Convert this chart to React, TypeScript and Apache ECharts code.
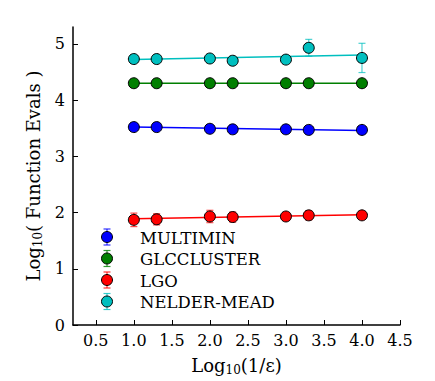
import React, { useEffect, useRef } from "react";
import * as echarts from "echarts";

const xValues = [1.0, 1.3, 2.0, 2.3, 3.0, 3.3, 4.0];
const seriesNames = ["MULTIMIN", "GLCCLUSTER", "LGO", "NELDER-MEAD"];
const seriesColors = ["#0000ff", "#007f00", "#ff0000", "#00bfbf"];

const multiminY = [3.52, 3.52, 3.49, 3.48, 3.48, 3.47, 3.47];
const multiminErr = [0.02, 0.02, 0.02, 0.02, 0.02, 0.02, 0.02];
const glcY = [4.3, 4.3, 4.3, 4.3, 4.3, 4.3, 4.3];
const glcErr = [0.01, 0.01, 0.01, 0.01, 0.01, 0.01, 0.01];
const lgoY = [1.87, 1.88, 1.93, 1.92, 1.93, 1.95, 1.95];
const lgoErr = [0.12, 0.1, 0.11, 0.09, 0.07, 0.08, 0.05];
const nelderY = [4.73, 4.73, 4.74, 4.7, 4.72, 4.93, 4.75];
const nelderErr = [0.02, 0.02, 0.02, 0.06, 0.06, 0.15, 0.26];

// linear-fit endpoints, at x = 1.0 and x = 4.0
const fitX = [1.0, 4.0];
const multiminFit = [3.52, 3.46];
const glcFit = [4.3, 4.3];
const lgoFit = [1.89, 1.96];
const nelderFit = [4.72, 4.8];

const xTicks = [0.5, 1.0, 1.5, 2.0, 2.5, 3.0, 3.5, 4.0, 4.5];
const yTicks = [0, 1, 2, 3, 4, 5];

const allY = [multiminY, glcY, lgoY, nelderY];
const allErr = [multiminErr, glcErr, lgoErr, nelderErr];
const allFit = [multiminFit, glcFit, lgoFit, nelderFit];

const FONT = "DejaVu Serif";
const FS = 16;
const NAME_FS = 18;

export default function App() {
  const ref = useRef<HTMLDivElement>(null);
  useEffect(() => {
    if (!ref.current) return;
    const chart = echarts.init(ref.current, null, { renderer: "svg" });
    const series: any[] = [];
    seriesNames.forEach((name, i) => {
      const color = seriesColors[i];
      series.push({
        type: "line",
        name: name + " fit",
        data: fitX.map((x, k) => [x, allFit[i][k]]),
        showSymbol: false,
        symbol: "none",
        lineStyle: { color, width: 1.5 },
        z: 2,
        silent: true,
      });
      series.push({
        type: "custom",
        name: name + " err",
        data: xValues.map((x, k) => [x, allY[i][k] - allErr[i][k], allY[i][k] + allErr[i][k]]),
        renderItem: (params: any, api: any) => {
          const lo = api.coord([api.value(0), api.value(1)]);
          const hi = api.coord([api.value(0), api.value(2)]);
          const w = 3.5;
          const style = { stroke: color, lineWidth: 1.2, opacity: 0.7 };
          return {
            type: "group",
            children: [
              { type: "line", shape: { x1: lo[0], y1: lo[1], x2: hi[0], y2: hi[1] }, style },
              { type: "line", shape: { x1: hi[0] - w, y1: hi[1], x2: hi[0] + w, y2: hi[1] }, style },
              { type: "line", shape: { x1: lo[0] - w, y1: lo[1], x2: lo[0] + w, y2: lo[1] }, style },
            ],
          };
        },
        z: 3,
        silent: true,
      });
      series.push({
        type: "scatter",
        name,
        data: xValues.map((x, k) => [x, allY[i][k]]),
        symbol: "circle",
        symbolSize: 11,
        itemStyle: { color, borderColor: "#000", borderWidth: 1, opacity: 1 },
        z: 4,
      });
    });

    const legendX = 107;
    const legendY0 = 237;
    const legendDy = 21.5;
    const legendEls: any[] = [];
    seriesNames.forEach((name, i) => {
      const cy = legendY0 + i * legendDy;
      const st = { stroke: seriesColors[i], lineWidth: 1.2, opacity: 0.8 };
      legendEls.push({ type: "line", shape: { x1: legendX, y1: cy - 8, x2: legendX, y2: cy + 8 }, style: st, z: 10 });
      legendEls.push({ type: "line", shape: { x1: legendX - 3.5, y1: cy - 8, x2: legendX + 3.5, y2: cy - 8 }, style: st, z: 10 });
      legendEls.push({ type: "line", shape: { x1: legendX - 3.5, y1: cy + 8, x2: legendX + 3.5, y2: cy + 8 }, style: st, z: 10 });
      legendEls.push({
        type: "circle",
        shape: { cx: legendX, cy, r: 5.5 },
        style: { fill: seriesColors[i], stroke: "#000", lineWidth: 1 },
        z: 11,
      });
      legendEls.push({
        type: "text",
        x: 140,
        y: cy + 1,
        style: { text: name, fontFamily: FONT, fontSize: 16.5, fill: "#000", verticalAlign: "middle", align: "left" },
        z: 11,
      });
    });

    chart.setOption({
      animation: false,
      backgroundColor: "#fff",
      textStyle: { fontFamily: FONT },
      grid: { left: 73, right: 35, top: 27, bottom: 54, containLabel: false },
      xAxis: {
        type: "value",
        min: 0.2,
        max: 4.5,
        name: "{a|Log}{s|10}{a|(1/ε)}",
        nameLocation: "middle",
        nameGap: 30,
        nameTextStyle: {
          fontFamily: FONT,
          rich: {
            a: { fontFamily: FONT, fontSize: NAME_FS, color: "#000" },
            s: { fontFamily: FONT, fontSize: 12, color: "#000", padding: [9, 0, 0, 0] },
          },
        },
        axisLine: { show: true, onZero: false, lineStyle: { color: "#000", width: 1.5 } },
        axisTick: { show: true, inside: true, length: 5, customValues: xTicks, lineStyle: { color: "#000", width: 1 } },
        axisLabel: {
          customValues: xTicks,
          formatter: (v: number) => v.toFixed(1),
          fontFamily: FONT,
          fontSize: FS,
          color: "#000",
          margin: 7,
        },
        splitLine: { show: false },
      },
      yAxis: {
        type: "value",
        min: 0,
        max: 5.3,
        name: "{a|Log}{s|10}{a|( Function Evals )}",
        nameLocation: "middle",
        nameRotate: 90,
        nameGap: 25,
        nameTextStyle: {
          fontFamily: FONT,
          rich: {
            a: { fontFamily: FONT, fontSize: NAME_FS, color: "#000" },
            s: { fontFamily: FONT, fontSize: 12, color: "#000", padding: [9, 0, 0, 0] },
          },
        },
        axisLine: { show: true, onZero: false, lineStyle: { color: "#000", width: 1.5 } },
        axisTick: { show: true, inside: true, length: 5, customValues: yTicks, lineStyle: { color: "#000", width: 1 } },
        axisLabel: {
          customValues: yTicks,
          fontFamily: FONT,
          fontSize: FS,
          color: "#000",
          margin: 8,
        },
        splitLine: { show: false },
      },
      graphic: legendEls,
      series,
    });
    return () => chart.dispose();
  }, []);
  return (
    <div
      ref={ref}
      style={{ position: "fixed", left: 0, top: 0, width: 435, height: 381, background: "#fff" }}
    />
  );
}
